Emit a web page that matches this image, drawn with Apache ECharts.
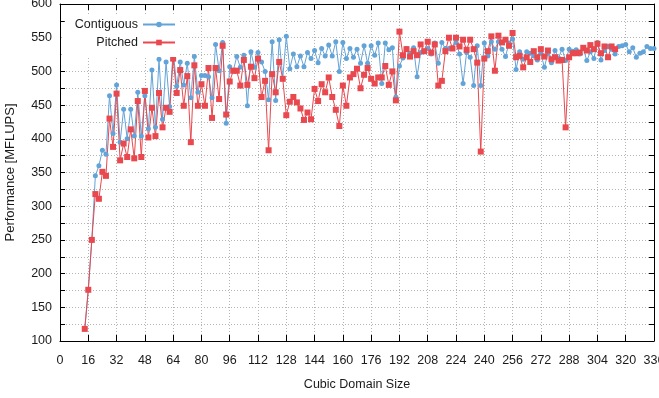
<!DOCTYPE html>
<html>
<head>
<meta charset="utf-8">
<title>Performance vs cubic domain size</title>
<script src="https://cdn.jsdelivr.net/npm/echarts@6/dist/echarts.min.js"></script>
<style>
  html, body { margin: 0; padding: 0; background: #fff; }
  #main { width: 659px; height: 398px; }
</style>
</head>
<body>
<div id="main"></div>
<script>
// domain sizes: 14, 16, ... (step 2)
var firstSize = 14;
var sizeStep = 2;

// Contiguous (blue), sizes 14..336
var contiguous = [
  118, 176, 250, 345, 360, 383, 377, 464, 408, 480,
  395, 444, 400, 444, 404, 469, 404, 464, 415, 502,
  417, 518, 429, 514, 448, 531, 478, 514, 480, 512,
  461, 522, 469, 494, 494, 492, 461, 540, 501, 543,
  423, 507, 501, 522, 506, 524, 449, 529, 506, 528,
  514, 500, 458, 544, 457, 547, 490, 552, 504, 526,
  507, 523, 507, 528, 519, 531, 513, 534, 523, 539,
  523, 544, 500, 543, 519, 534, 521, 533, 512, 538,
  512, 538, 524, 542, 482, 542, 532, 535, 462, 508,
  520, 534, 527, 535, 492, 528, 529, 534, 526, 542,
  512, 543, 534, 534, 535, 543, 526, 482, 528, 521,
  479, 538, 479, 542, 523, 544, 533, 544, 533, 522,
  542, 548, 503, 529, 518, 529, 527, 523, 517, 527,
  506, 527, 513, 531, 520, 533, 516, 533, 530, 532,
  526, 534, 516, 529, 519, 543, 517, 531, 537, 533,
  526, 537, 538, 540, 529, 535, 521, 527, 529, 537,
  534, 534
];

// Pitched (red), sizes 14..314
var pitched = [
  118, 176, 250, 318, 311, 351, 345, 430, 388, 467,
  368, 393, 373, 414, 371, 456, 373, 471, 402, 446,
  404, 468, 417, 446, 440, 519, 468, 502, 449, 493,
  395, 509, 449, 481, 449, 505, 431, 505, 459, 538,
  436, 485, 501, 501, 479, 517, 480, 507, 490, 519,
  462, 486, 383, 496, 469, 514, 489, 435, 455, 462,
  454, 445, 428, 439, 429, 474, 456, 481, 469, 491,
  462, 443, 419, 479, 449, 491, 496, 504, 475, 495,
  505, 489, 482, 491, 491, 508, 480, 500, 457, 559,
  524, 533, 522, 530, 524, 540, 530, 544, 528, 540,
  479, 486, 530, 550, 534, 550, 537, 547, 532, 547,
  533, 513, 381, 519, 530, 552, 501, 553, 543, 547,
  538, 557, 521, 523, 506, 521, 514, 530, 521, 533,
  522, 531, 518, 521, 516, 517, 417, 521, 527, 527,
  528, 535, 531, 539, 533, 541, 527, 537, 521, 537,
  533
];

var xTicks = [0, 336, 16];      // min, max, interval
var yTicks = [100, 600, 25];    // min, max, interval (labels every 50)

function toPairs(vals){
  var out = [];
  for(var i=0;i<vals.length;i++){
    out.push([firstSize + i*sizeStep, vals[i]]);
  }
  return out;
}

var blue = '#62a3d8';
var red = '#e8484e';
var txt = '#1a1a1a';
var font = 'Liberation Sans, Arial, sans-serif';

var chart = echarts.init(document.getElementById('main'), null, {renderer:'canvas'});

var gridLine = {show:true, lineStyle:{color:'#b4b4b4', type:[1,2], width:1}};
var frameLine = {show:true, onZero:false, lineStyle:{color:'#000', width:1}};
var tickIn = {show:true, inside:true, length:6, lineStyle:{color:'#000', width:1}};

var option = {
  animation:false,
  backgroundColor:'#fff',
  textStyle:{fontFamily:font},
  grid:{left:60, right:5, top:4, bottom:57, containLabel:false, outerBoundsMode:'none'},
  legend:[
    {
      data:['Contiguous'],
      right:480, top:15,
      align:'right',
      padding:[3,3,3,10],
      backgroundColor:'#fff',
      itemWidth:32, itemHeight:7, itemGap:0,
      textStyle:{fontSize:12.5, color:txt, fontFamily:font}
    },
    {
      data:['Pitched'],
      right:480, top:34,
      align:'right',
      padding:[2,3,8,35],
      backgroundColor:'#fff',
      itemWidth:32, itemHeight:7, itemGap:0,
      textStyle:{fontSize:12.5, color:txt, fontFamily:font}
    }
  ],
  xAxis:[
    {
      type:'value', min:xTicks[0], max:xTicks[1], interval:xTicks[2],
      name:'Cubic Domain Size', nameLocation:'middle', nameGap:37,
      nameTextStyle:{fontSize:12.5, color:txt, fontFamily:font},
      axisLine:frameLine, axisTick:tickIn,
      axisLabel:{fontSize:12.5, color:txt, margin:13, fontFamily:font,
        alignMinLabel:'center', alignMaxLabel:'center'},
      splitLine:gridLine
    },
    {
      type:'value', position:'top', min:xTicks[0], max:xTicks[1], interval:xTicks[2],
      axisLine:frameLine, axisTick:tickIn,
      axisLabel:{show:false}, splitLine:{show:false}
    }
  ],
  yAxis:[
    {
      type:'value', min:yTicks[0], max:yTicks[1], interval:yTicks[2],
      name:'Performance [MFLUPS]', nameLocation:'middle', nameGap:43,
      nameTextStyle:{fontSize:13, color:txt, fontFamily:font},
      axisLine:frameLine, axisTick:{show:true, inside:true, length:5, lineStyle:{color:'#000'}},
      axisLabel:{fontSize:12.5, color:txt, margin:8, fontFamily:font,
        formatter:function(v){ return v % 50 === 0 ? String(v) : ''; }},
      splitLine:gridLine
    },
    {
      type:'value', position:'right', min:yTicks[0], max:yTicks[1], interval:yTicks[2],
      axisLine:frameLine, axisTick:{show:true, inside:true, length:5, lineStyle:{color:'#000'}},
      axisLabel:{show:false}, splitLine:{show:false}
    }
  ],
  series:[
    {
      name:'Contiguous', type:'line', data:toPairs(contiguous),
      symbol:'circle', symbolSize:5, showAllSymbol:true,
      itemStyle:{color:blue}, lineStyle:{color:blue, width:1}
    },
    {
      name:'Pitched', type:'line', data:toPairs(pitched),
      symbol:'rect', symbolSize:6, showAllSymbol:true,
      itemStyle:{color:red}, lineStyle:{color:red, width:1}
    }
  ]
};
chart.setOption(option);
</script>
</body>
</html>
